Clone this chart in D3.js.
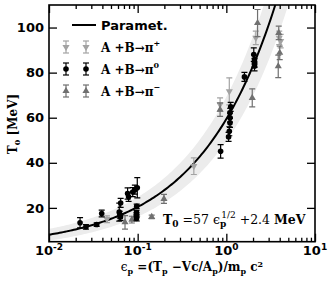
<!DOCTYPE html>
<html>
<head>
<meta charset="utf-8">
<script src="https://cdn.jsdelivr.net/npm/d3@7"></script>
<style>
  body { margin: 0; background: #fff; }
  svg { display: block; }
  .tick text { font-family: "DejaVu Sans", sans-serif; font-weight: bold; font-size: 13px; }
  .math { font-family: "DejaVu Serif", serif; font-weight: bold; }
</style>
</head>
<body>
<div id="canvas"></div>
<script>
// parametrisation T0 = a * eps^(1/2) + b, band from a/b spread
var paramA = 57, paramB = 2.4;
var bandLowA = 49, bandLowB = 0.6;
var bandHighA = 65, bandHighB = 4.2;

// [eps, T0, err]
var piPlus = [
  [0.045, 15.0, 1.5], [0.098, 15.5, 1.5], [0.43, 38.5, 3.7],
  [0.85, 65.8, 3], [1.08, 71.7, 6], [2.15, 95.4, 3],
  [3.95, 95.4, 3], [4.1, 94.0, 3]
];
var pi0 = [
  [0.0224, 13.4, 2.3], [0.0261, 11.6, 1], [0.0345, 12.6, 0.8], [0.0393, 17.5, 1.5],
  [0.062, 18.1, 4], [0.0643, 22.2, 2], [0.063, 17.0, 1.5], [0.064, 16.0, 1.5],
  [0.077, 26.4, 2.5], [0.079, 24.9, 2], [0.088, 27.0, 2], [0.093, 28.1, 2],
  [0.099, 28.9, 4.5], [0.0975, 20.7, 1], [0.097, 17.9, 1], [0.097, 16.8, 1], [0.097, 15.3, 1],
  [0.862, 45.1, 3], [1.12, 64.8, 2], [1.1, 62.2, 2], [1.1, 60.0, 2], [1.1, 57.7, 2],
  [1.08, 54.0, 2], [1.06, 51.5, 2], [1.6, 78.1, 2],
  [2.04, 88.0, 3], [2.08, 85.8, 2], [2.08, 84.3, 2], [2.08, 82.8, 2]
];
var piMinus = [
  [0.072, 13.6, 3], [0.086, 14.8, 1.5], [0.144, 16.0, 0.8], [0.198, 24.0, 2],
  [0.85, 63.6, 3], [1.96, 68.8, 4], [2.25, 102.0, 6],
  [3.9, 97.6, 3], [4.0, 88.8, 3], [3.85, 82.8, 5]
];

var xTicks = [0.01, 0.1, 1, 10];
var xTickExp = ["-2", "-1", "0", "1"];
var yTicks = [20, 40, 60, 80, 100];

var W = 329, H = 282;
var margin = {top: 5, right: 14, bottom: 40.3, left: 49};
var width = W - margin.left - margin.right,
    height = H - margin.top - margin.bottom;

var svg = d3.select("#canvas").append("svg")
  .attr("width", W)
  .attr("height", H);

var g = svg.append("g")
  .attr("transform", "translate(" + margin.left + "," + margin.top + ")");

var x = d3.scaleLog().domain([0.01, 10]).range([0, width]);
var y = d3.scaleLinear().domain([5, 110]).range([height, 0]);

g.append("defs").append("clipPath").attr("id", "clip")
  .append("rect").attr("width", width).attr("height", height);

var plot = g.append("g").attr("clip-path", "url(#clip)");

// band + curve
var epsGrid = d3.range(-2, 1.001, 0.02).map(function(e) { return Math.pow(10, e); });
var band = d3.area()
  .x(function(e) { return x(e); })
  .y0(function(e) { return y(bandLowA * Math.sqrt(e) + bandLowB); })
  .y1(function(e) { return y(bandHighA * Math.sqrt(e) + bandHighB); });
plot.append("path").datum(epsGrid)
  .attr("d", band)
  .attr("fill", "#ececec");

var line = d3.line()
  .x(function(e) { return x(e); })
  .y(function(e) { return y(paramA * Math.sqrt(e) + paramB); });
plot.append("path").datum(epsGrid)
  .attr("d", line)
  .attr("fill", "none")
  .attr("stroke", "#000")
  .attr("stroke-width", 2);

var triDown = d3.symbol().type(d3.symbolTriangle).size(22);

function drawSeries(parent, data, color, kind) {
  var s = parent.append("g");
  var pts = s.selectAll("g").data(data).enter().append("g")
    .attr("transform", function(d) { return "translate(" + x(d[0]) + "," + y(d[1]) + ")"; });
  pts.append("line")
    .attr("y1", function(d) { return y(d[1] - d[2]) - y(d[1]); })
    .attr("y2", function(d) { return y(d[1] + d[2]) - y(d[1]); })
    .attr("stroke", color).attr("stroke-width", 1.2);
  pts.append("line")
    .attr("x1", -3).attr("x2", 3)
    .attr("y1", function(d) { return y(d[1] - d[2]) - y(d[1]); })
    .attr("y2", function(d) { return y(d[1] - d[2]) - y(d[1]); })
    .attr("stroke", color).attr("stroke-width", 1.2);
  pts.append("line")
    .attr("x1", -3).attr("x2", 3)
    .attr("y1", function(d) { return y(d[1] + d[2]) - y(d[1]); })
    .attr("y2", function(d) { return y(d[1] + d[2]) - y(d[1]); })
    .attr("stroke", color).attr("stroke-width", 1.2);
  if (kind === "circle") {
    pts.append("circle").attr("r", 2.8).attr("fill", color);
  } else {
    pts.append("path").attr("d", triDown)
      .attr("transform", kind === "down" ? "rotate(180)" : null)
      .attr("fill", color);
  }
}

drawSeries(plot, piPlus, "#a3a3a3", "down");
drawSeries(plot, piMinus, "#707070", "up");
drawSeries(plot, pi0, "#000", "circle");

// axes, ticks inward
var yAxisL = d3.axisLeft(y).tickValues(yTicks).tickSize(-8).tickPadding(5);
var yAxisR = d3.axisRight(y).tickValues(yTicks).tickSize(-8).tickFormat("");
var minorX = [];
[0.01, 0.1, 1].forEach(function(d) {
  for (var k = 2; k < 10; k++) minorX.push(d * k);
});
var xAxisB = d3.axisBottom(x).tickValues(xTicks).tickSize(-8).tickFormat("");
var xAxisT = d3.axisTop(x).tickValues(xTicks).tickSize(-8).tickFormat("");
var xMinorB = d3.axisBottom(x).tickValues(minorX).tickSize(-4).tickFormat("");
var xMinorT = d3.axisTop(x).tickValues(minorX).tickSize(-4).tickFormat("");

var gY = g.append("g").call(yAxisL);
g.append("g").attr("transform", "translate(" + width + ",0)").call(yAxisR);
g.append("g").attr("transform", "translate(0," + height + ")").call(xAxisB);
g.append("g").attr("transform", "translate(0," + height + ")").call(xMinorB);
g.append("g").call(xAxisT);
g.append("g").call(xMinorT);
g.selectAll(".domain").remove();
g.selectAll(".tick line").attr("stroke", "#000").attr("stroke-width", 1.3);
gY.selectAll(".tick text").attr("fill", "#000");

g.append("rect").attr("width", width).attr("height", height)
  .attr("fill", "none").attr("stroke", "#000").attr("stroke-width", 1.6);

// x tick labels 10^n
var xl = g.append("g").attr("transform", "translate(0," + (height + 13.5) + ")");
xTicks.forEach(function(t, i) {
  var tx = xl.append("text")
    .attr("x", x(t)).attr("text-anchor", "middle")
    .style("font-family", "DejaVu Sans, sans-serif")
    .style("font-weight", "bold").style("font-size", "13px");
  tx.append("tspan").text("10");
  tx.append("tspan").attr("dy", -5).style("font-size", "9px").text(xTickExp[i]);
});

// axis labels
var xlab = svg.append("text").attr("class", "math")
  .attr("x", 192).attr("y", 271).attr("text-anchor", "middle")
  .style("font-size", "12px");
xlab.append("tspan").style("font-weight", "normal").text("ϵ");
xlab.append("tspan").attr("dy", 3).style("font-size", "8px").text("p");
xlab.append("tspan").attr("dy", -3).text(" =(T");
xlab.append("tspan").attr("dy", 3).style("font-size", "8px").text("p");
xlab.append("tspan").attr("dy", -3).text(" \u2212Vc/A");
xlab.append("tspan").attr("dy", 3).style("font-size", "8px").text("p");
xlab.append("tspan").attr("dy", -3).text(")/m");
xlab.append("tspan").attr("dy", 3).style("font-size", "8px").text("p");
xlab.append("tspan").attr("dy", -3).text(" c");
xlab.append("tspan").attr("dy", -4).style("font-size", "8px").text("2");

var ylab = svg.append("text").attr("class", "math")
  .attr("transform", "translate(17,124) rotate(-90)")
  .attr("text-anchor", "middle").style("font-size", "12px");
ylab.append("tspan").text("T");
ylab.append("tspan").attr("dy", 3).style("font-size", "8px").text("0");
ylab.append("tspan").attr("dy", -3).text(" [MeV]");

// annotation
var ann = svg.append("text").attr("class", "math")
  .attr("x", 163).attr("y", 224).style("font-size", "12.5px");
ann.append("tspan").text("T");
ann.append("tspan").attr("dy", 3).style("font-size", "9px").text("0");
ann.append("tspan").attr("dy", -3).style("font-weight", "normal").text(" =57 ");
ann.append("tspan").style("font-weight", "normal").text("ϵ");
ann.append("tspan").attr("dy", 3).style("font-size", "9px").text("p");
ann.append("tspan").attr("dy", -9).attr("dx", -5).style("font-size", "9px").style("font-weight", "normal").text("1/2");
ann.append("tspan").attr("dy", 6).style("font-weight", "normal").text(" +2.4 ");
ann.append("tspan").text("MeV");

// legend
var leg = svg.append("g");
leg.append("line").attr("x1", 72).attr("x2", 96).attr("y1", 25).attr("y2", 25)
  .attr("stroke", "#000").attr("stroke-width", 2);
leg.append("text").attr("x", 101).attr("y", 30)
  .style("font-family", "DejaVu Sans, sans-serif").style("font-weight", "bold")
  .style("font-size", "13px").text("Paramet.");

var legItems = [
  {color: "#a3a3a3", kind: "down", sup: "+", yy: 47},
  {color: "#000", kind: "circle", sup: "0", yy: 69},
  {color: "#707070", kind: "up", sup: "\u2212", yy: 91}
];
legItems.forEach(function(it) {
  [66, 86].forEach(function(px) {
    var m = leg.append("g").attr("transform", "translate(" + px + "," + it.yy + ")");
    m.append("line").attr("y1", -6).attr("y2", 6).attr("stroke", it.color).attr("stroke-width", 1.2);
    [-6, 6].forEach(function(cy) {
      m.append("line").attr("x1", -3).attr("x2", 3).attr("y1", cy).attr("y2", cy)
        .attr("stroke", it.color).attr("stroke-width", 1.2);
    });
    if (it.kind === "circle") m.append("circle").attr("r", 2.8).attr("fill", it.color);
    else m.append("path").attr("d", triDown).attr("transform", it.kind === "down" ? "rotate(180)" : null).attr("fill", it.color);
  });
  var t = leg.append("text").attr("class", "math").attr("x", 101).attr("y", it.yy + 5)
    .style("font-size", "12px");
  t.append("tspan").text("A +B\u2192\u03c0");
  t.append("tspan").attr("dy", -6).style("font-size", "8px").text(it.sup);
});
</script>
</body>
</html>
